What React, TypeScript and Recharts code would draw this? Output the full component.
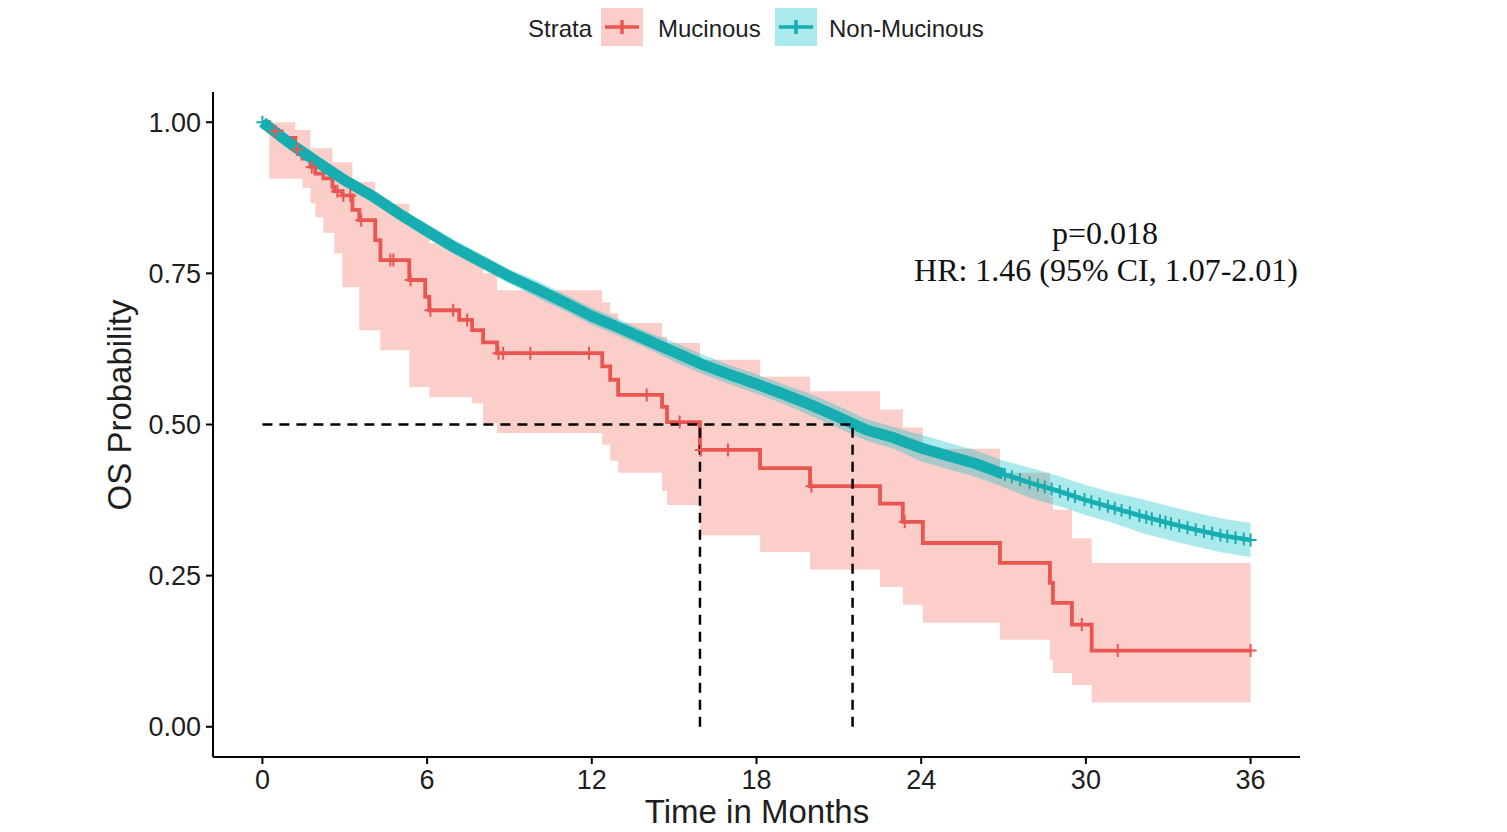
import React from 'react';
import { ComposedChart, Line, Area, Scatter, XAxis, YAxis } from 'recharts';

// ---------- Data ----------
// Mucinous Kaplan-Meier step table: time (months), survival, lower CI, upper CI
const mucTime = [0, 0.25, 0.7, 1.2, 1.46, 1.75, 1.93, 2.22, 2.55, 2.62, 2.91, 3.28, 3.53, 4.11, 4.3, 5.35, 5.93, 6.08, 7.17, 7.64, 8.04, 8.55, 12.38, 12.67, 12.96, 14.56, 14.74, 15.94, 18.13, 19.95, 22.5, 23.33, 24.06, 26.87, 28.69, 28.8, 29.49, 30.21, 36];
const mucSurv = [1, 0.985, 0.974, 0.955, 0.94, 0.926, 0.915, 0.907, 0.893, 0.886, 0.879, 0.855, 0.838, 0.805, 0.772, 0.739, 0.711, 0.689, 0.673, 0.656, 0.636, 0.618, 0.596, 0.574, 0.549, 0.529, 0.504, 0.458, 0.428, 0.398, 0.369, 0.339, 0.304, 0.271, 0.238, 0.205, 0.169, 0.126, 0.126];
const mucLower = [1, 0.907, 0.907, 0.907, 0.891, 0.866, 0.843, 0.817, 0.817, 0.783, 0.727, 0.727, 0.656, 0.656, 0.623, 0.562, 0.562, 0.545, 0.545, 0.535, 0.502, 0.486, 0.467, 0.44, 0.42, 0.39, 0.367, 0.317, 0.289, 0.26, 0.231, 0.202, 0.172, 0.144, 0.11, 0.089, 0.069, 0.04, 0.04];
const mucUpper = [1, 1, 1, 0.987, 0.987, 0.957, 0.957, 0.957, 0.934, 0.934, 0.934, 0.901, 0.901, 0.865, 0.865, 0.83, 0.83, 0.8, 0.785, 0.77, 0.75, 0.722, 0.702, 0.684, 0.668, 0.645, 0.635, 0.607, 0.579, 0.555, 0.525, 0.495, 0.46, 0.42, 0.38, 0.359, 0.312, 0.271, 0.271];
const mucCensor = [0.47, 1.27, 1.8, 2.73, 2.95, 3.2, 3.6, 4.66, 4.77, 5.4, 6.12, 6.95, 7.46, 8.6, 8.77, 9.76, 11.9, 14.0, 15.2, 15.97, 16.96, 20.0, 23.4, 29.85, 31.16, 36];

// Non-Mucinous curve (many events, read monthly)
const nonMucTime = [0, 1, 2, 3, 4, 5, 6, 7, 8, 9, 10, 11, 12, 13, 14, 15, 16, 17, 18, 19, 20, 21, 22, 23, 24, 25, 26, 27, 28, 29, 30, 31, 32, 33, 34, 35, 36];
const nonMucSurv = [1.0, 0.965, 0.934, 0.904, 0.878, 0.848, 0.82, 0.793, 0.769, 0.745, 0.724, 0.702, 0.679, 0.66, 0.64, 0.62, 0.6, 0.583, 0.567, 0.55, 0.532, 0.512, 0.491, 0.478, 0.461, 0.448, 0.435, 0.418, 0.403, 0.39, 0.375, 0.362, 0.349, 0.337, 0.326, 0.316, 0.309];
const nonMucLower = [1.0, 0.959, 0.926, 0.894, 0.868, 0.838, 0.808, 0.781, 0.757, 0.733, 0.71, 0.688, 0.665, 0.646, 0.626, 0.604, 0.584, 0.567, 0.551, 0.534, 0.514, 0.494, 0.473, 0.46, 0.439, 0.426, 0.413, 0.396, 0.378, 0.365, 0.35, 0.337, 0.321, 0.309, 0.298, 0.288, 0.281];
const nonMucUpper = [1.0, 0.971, 0.942, 0.914, 0.888, 0.858, 0.832, 0.805, 0.781, 0.757, 0.738, 0.716, 0.693, 0.674, 0.654, 0.636, 0.616, 0.599, 0.583, 0.566, 0.55, 0.53, 0.509, 0.496, 0.483, 0.47, 0.457, 0.44, 0.428, 0.415, 0.4, 0.387, 0.377, 0.365, 0.354, 0.344, 0.337];
// censor marks that merge into a solid band up to this time
const nonMucDenseUntil = 27;
const nonMucCensor = [0, 27.05, 27.3, 27.6, 27.95, 28.25, 28.5, 28.75, 29.05, 29.35, 29.6, 29.95, 30.2, 30.5, 30.8, 31.05, 31.3, 31.6, 31.95, 32.2, 32.4, 32.7, 32.9, 33.1, 33.4, 33.7, 34.0, 34.3, 34.6, 34.9, 35.15, 35.45, 35.75, 36.0];

const medianLevel = 0.5;
const medianMucinous = 15.94;
const medianNonMucinous = 21.5;

const xTicks = [0, 6, 12, 18, 24, 30, 36];
const yTicks = [0, 0.25, 0.5, 0.75, 1.0];

const legendTitle = 'Strata';
const seriesNames = ['Mucinous', 'Non-Mucinous'];
const annotation = ['p=0.018', 'HR: 1.46 (95% CI, 1.07-2.01)'];
const xTitle = 'Time in Months';
const yTitle = 'OS Probability';

// ---------- derived tables ----------
const mucRows = mucTime.map((t, i) => ({ t, s: mucSurv[i], band: [mucLower[i], mucUpper[i]] }));
const nonMucRows = nonMucTime.map((t, i) => ({ t, s: nonMucSurv[i], band: [nonMucLower[i], nonMucUpper[i]] }));
const nonMucDenseRows = nonMucRows.filter((r) => r.t <= nonMucDenseUntil);

const stepAt = (t: number) => {
  let v = mucSurv[0];
  for (let i = 0; i < mucTime.length; i++) if (mucTime[i] <= t) v = mucSurv[i];
  return v;
};
const linAt = (t: number) => {
  for (let i = 0; i < nonMucTime.length - 1; i++) {
    if (t >= nonMucTime[i] && t <= nonMucTime[i + 1]) {
      const f = (t - nonMucTime[i]) / (nonMucTime[i + 1] - nonMucTime[i]);
      return nonMucSurv[i] + f * (nonMucSurv[i + 1] - nonMucSurv[i]);
    }
  }
  return nonMucSurv[nonMucSurv.length - 1];
};
const mucCensorRows = mucCensor.map((t) => ({ t, s: stepAt(t) }));
const nonMucCensorRows = nonMucCensor.map((t) => ({ t, s: linAt(t) }));

const hLine = [{ t: 0, s: medianLevel }, { t: medianNonMucinous, s: medianLevel }];
const vLine1 = [{ t: medianMucinous, s: 0 }, { t: medianMucinous, s: medianLevel }];
const vLine2 = [{ t: medianNonMucinous, s: 0 }, { t: medianNonMucinous, s: medianLevel }];

const RED = '#EA5550';
const TEAL = '#17AEB2';
const SANS = '"Liberation Sans", Arial, Helvetica, sans-serif';
const SERIF = '"Liberation Serif", "Times New Roman", serif';
const TXT = '#1e1e1e';

const W = 1490;
const H = 824;

const cross = (color: string) => (props: any) => {
  const { cx, cy } = props;
  if (cx == null || cy == null) return <g />;
  return (
    <path
      d={`M${cx - 6},${cy}H${cx + 6}M${cx},${cy - 6.5}V${cy + 6.5}`}
      stroke={color}
      strokeWidth={2}
      fill="none"
    />
  );
};

export default function App() {
  return (
    <div style={{ position: 'relative', width: W, height: H, background: '#fff' }}>
      <ComposedChart width={W} height={H} margin={{ top: 84, right: 198, bottom: 15, left: 125 }}>
        <XAxis
          type="number"
          dataKey="t"
          domain={[-1.8, 37.8]}
          ticks={xTicks}
          allowDataOverflow
          height={60}
          tickSize={7}
          tickMargin={6}
          axisLine={{ stroke: '#000', strokeWidth: 2 }}
          tickLine={{ stroke: '#000', strokeWidth: 2 }}
          tick={{ fontSize: 27, fill: TXT, fontFamily: SANS }}
        />
        <YAxis
          type="number"
          domain={[-0.05, 1.05]}
          ticks={yTicks}
          allowDataOverflow
          width={80}
          tickSize={7}
          tickMargin={5}
          tickFormatter={(v: number) => v.toFixed(2)}
          axisLine={{ stroke: '#000', strokeWidth: 2 }}
          tickLine={{ stroke: '#000', strokeWidth: 2 }}
          tick={{ fontSize: 27, fill: TXT, fontFamily: SANS }}
        />
        <Area data={mucRows} dataKey="band" type="stepAfter" fill="#F8766D" fillOpacity={0.36} stroke="none" isAnimationActive={false} />
        <Area data={nonMucRows} dataKey="band" type="linear" fill="#00BFC4" fillOpacity={0.33} stroke="none" isAnimationActive={false} />
        <Line data={mucRows} dataKey="s" type="stepAfter" stroke={RED} strokeWidth={3.8} dot={false} isAnimationActive={false} />
        <Scatter data={mucCensorRows} dataKey="s" shape={cross(RED)} isAnimationActive={false} />
        <Line data={nonMucDenseRows} dataKey="s" type="linear" stroke={TEAL} strokeWidth={11} dot={false} isAnimationActive={false} />
        <Line data={nonMucRows} dataKey="s" type="linear" stroke={TEAL} strokeWidth={4.5} dot={false} isAnimationActive={false} />
        <Scatter data={nonMucCensorRows} dataKey="s" shape={cross(TEAL)} isAnimationActive={false} />
        <Line data={hLine} dataKey="s" type="linear" stroke="#000" strokeWidth={2.5} strokeDasharray="10 7" dot={false} isAnimationActive={false} />
        <Line data={vLine1} dataKey="s" type="linear" stroke="#000" strokeWidth={2.5} strokeDasharray="10 7" dot={false} isAnimationActive={false} />
        <Line data={vLine2} dataKey="s" type="linear" stroke="#000" strokeWidth={2.5} strokeDasharray="10 7" dot={false} isAnimationActive={false} />
      </ComposedChart>
      <svg width={W} height={H} style={{ position: 'absolute', left: 0, top: 0, pointerEvents: 'none' }}>
        {/* legend */}
        <text x={520} y={29} fontSize={24} fontFamily={SANS} fill={TXT}>{legendTitle}</text>
        <rect x={593} y={0} width={42} height={38} fill="#F8766D" fillOpacity={0.36} />
        <path d="M597,19H631M614,12V26" stroke={RED} strokeWidth={3.5} fill="none" />
        <text x={650} y={29} fontSize={24} fontFamily={SANS} fill={TXT}>{seriesNames[0]}</text>
        <rect x={767} y={0} width={42} height={38} fill="#00BFC4" fillOpacity={0.33} />
        <path d="M771,19H805M788,12V26" stroke={TEAL} strokeWidth={3.5} fill="none" />
        <text x={821} y={29} fontSize={24} fontFamily={SANS} fill={TXT}>{seriesNames[1]}</text>
        {/* annotation */}
        <text x={1097} y={236} fontSize={32} fontFamily={SERIF} fill="#111" textAnchor="middle">{annotation[0]}</text>
        <text x={1098} y={273} fontSize={32} fontFamily={SERIF} fill="#111" textAnchor="middle">{annotation[1]}</text>
        {/* axis titles */}
        <text x={749} y={815} fontSize={33} fontFamily={SANS} fill={TXT} textAnchor="middle">{xTitle}</text>
        <text x={123} y={397} fontSize={33} fontFamily={SANS} fill={TXT} textAnchor="middle" transform="rotate(-90 123 397)">{yTitle}</text>
      </svg>
    </div>
  );
}
